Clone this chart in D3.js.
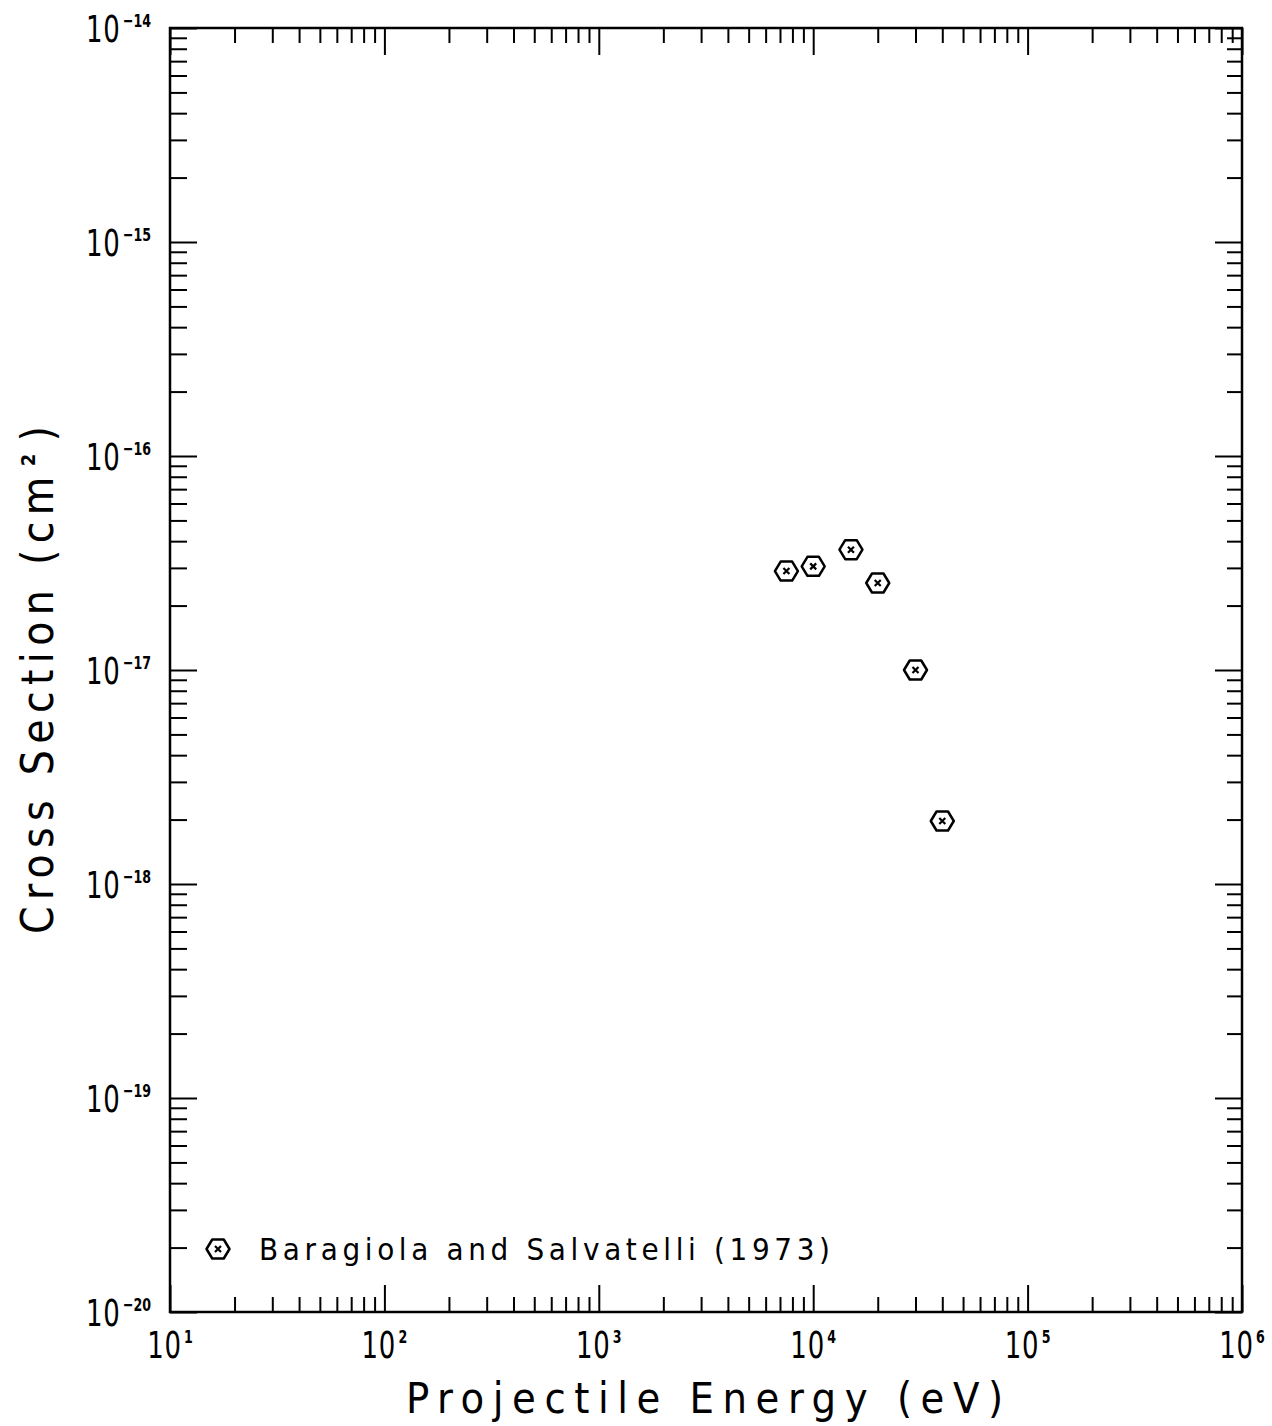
<!DOCTYPE html>
<html>
<head>
<meta charset="utf-8">
<script src="https://cdn.jsdelivr.net/npm/d3@7"></script>
<style>
  html, body { margin: 0; padding: 0; background: #fff; }
  svg { display: block; }
  text { font-family: "DejaVu Sans", sans-serif; font-stretch: condensed; fill: #000; }
</style>
</head>
<body>
<svg id="chart" width="1272" height="1426"></svg>
<script>
// Baragiola and Salvatelli (1973): cross section vs projectile energy
const energy = [7.5e3, 1.0e4, 1.5e4, 2.0e4, 3.0e4, 4.0e4];          // eV
const crossSection = [2.9e-17, 3.05e-17, 3.65e-17, 2.55e-17, 1.0e-17, 1.97e-18]; // cm^2

const xExponents = [1, 2, 3, 4, 5, 6];
const yExponents = [-14, -15, -16, -17, -18, -19, -20];
const seriesName = "Baragiola and Salvatelli (1973)";
const xTitle = "Projectile Energy (eV)";

const margin = { left: 170, right: 1242, top: 28, bottom: 1312 };
const svg = d3.select("#chart");

const x = d3.scaleLog().domain([1e1, 1e6]).range([margin.left, margin.right]);
const y = d3.scaleLog().domain([1e-20, 1e-14]).range([margin.bottom, margin.top]);

const xMajor = xExponents.map(e => Math.pow(10, e));
const yMajor = yExponents.map(e => Math.pow(10, e));
const xMinor = [], yMinor = [];
for (let e = 1; e < 6; e++) for (let m = 2; m <= 9; m++) xMinor.push(m * Math.pow(10, e));
for (let e = -20; e < -14; e++) for (let m = 2; m <= 9; m++) yMinor.push(m * Math.pow(10, e));

const MAJOR = 27, MINOR = 15;

function tickAxis(axisFn, scale, values, size, transform) {
  const g = svg.append("g")
    .attr("transform", transform)
    .call(axisFn(scale).tickValues(values).tickSize(-size).tickFormat(""));
  g.select(".domain").remove();
  g.selectAll(".tick line").attr("stroke", "#000").attr("stroke-width", 2);
}

// inward ticks on all four sides
tickAxis(d3.axisBottom, x, xMajor, MAJOR, `translate(0,${margin.bottom})`);
tickAxis(d3.axisBottom, x, xMinor, MINOR, `translate(0,${margin.bottom})`);
tickAxis(d3.axisTop, x, xMajor, MAJOR, `translate(0,${margin.top})`);
tickAxis(d3.axisTop, x, xMinor, MINOR, `translate(0,${margin.top})`);
tickAxis(d3.axisLeft, y, yMajor, MAJOR, `translate(${margin.left},0)`);
tickAxis(d3.axisLeft, y, yMinor, MINOR + 2, `translate(${margin.left},0)`);
tickAxis(d3.axisRight, y, yMajor, MAJOR, `translate(${margin.right},0)`);
tickAxis(d3.axisRight, y, yMinor, MINOR, `translate(${margin.right},0)`);

// plot frame
svg.append("rect")
  .attr("x", margin.left).attr("y", margin.top)
  .attr("width", margin.right - margin.left)
  .attr("height", margin.bottom - margin.top)
  .attr("fill", "none").attr("stroke", "#000").attr("stroke-width", 2.5);

// power-of-ten label: "10" followed by a raised exponent
function powerLabel(g, exp) {
  const t = g.append("text").attr("font-size", 37);
  t.append("tspan").text("10").attr("letter-spacing", 1);
  t.append("tspan").text(exp < 0 ? "\u2212" + (-exp) : String(exp))
    .attr("font-size", 18).attr("font-weight", "bold")
    .attr("dx", 3).attr("dy", -15);
  return t;
}

// x tick labels
xExponents.forEach(e => {
  const g = svg.append("g")
    .attr("transform", `translate(${x(Math.pow(10, e))},1358) scale(0.78,1)`);
  powerLabel(g, e).attr("text-anchor", "middle");
});

// y tick labels
yExponents.forEach(e => {
  const g = svg.append("g")
    .attr("transform", `translate(151,${y(Math.pow(10, e)) + 14}) scale(0.78,1)`);
  powerLabel(g, e).attr("text-anchor", "end");
});

// axis titles
svg.append("text")
  .attr("x", 406).attr("y", 1413)
  .attr("font-size", 43)
  .attr("textLength", 597).attr("lengthAdjust", "spacing")
  .text(xTitle);

const yt = svg.append("text")
  .attr("transform", "translate(53,934) rotate(-90)")
  .attr("font-size", 44)
  .attr("textLength", 508).attr("lengthAdjust", "spacing");
yt.append("tspan").text("Cross Section (cm");
yt.append("tspan").text("2").attr("font-size", 20).attr("font-weight", "bold").attr("dy", -18).attr("dx", 4);
yt.append("tspan").text(")").attr("dy", 18).attr("dx", 6);

// hexagonal "x" marker
const hw = 11.5, hh = 9.5;
const hexPts = [[-hw, 0], [-hw / 2, -hh], [hw / 2, -hh], [hw, 0], [hw / 2, hh], [-hw / 2, hh]];
const hexPath = d3.line()(hexPts) + "Z";
const crossPath = "M-3,-3L3,3M-3,3L3,-3";

function marker(g) {
  g.append("path").attr("d", hexPath).attr("fill", "#fff")
    .attr("stroke", "#000").attr("stroke-width", 2.5).attr("stroke-linejoin", "round");
  g.append("path").attr("d", crossPath).attr("stroke", "#000").attr("stroke-width", 2.2);
}

const points = energy.map((e, i) => ({ e, s: crossSection[i] }));
svg.append("g").selectAll("g.pt")
  .data(points).join("g")
  .attr("class", "pt")
  .attr("transform", d => `translate(${x(d.e)},${y(d.s)})`)
  .each(function () { marker(d3.select(this)); });

// legend
const lg = svg.append("g").attr("transform", "translate(218,1249)");
marker(lg);
svg.append("text")
  .attr("x", 259).attr("y", 1260)
  .attr("font-size", 31)
  .attr("textLength", 571).attr("lengthAdjust", "spacing")
  .text(seriesName);
</script>
</body>
</html>
